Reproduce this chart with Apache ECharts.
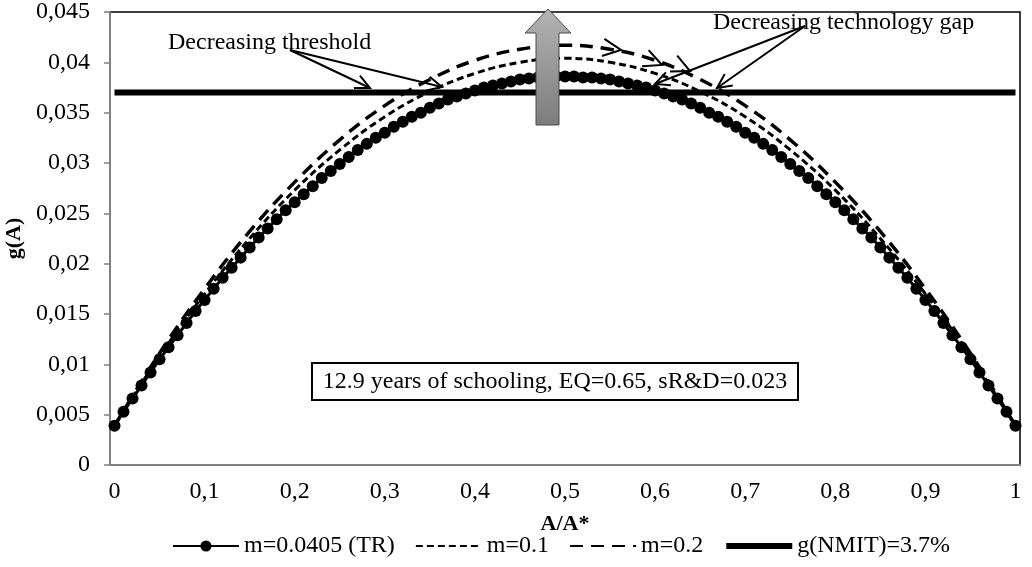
<!DOCTYPE html>
<html>
<head>
<meta charset="utf-8">
<script src="https://cdn.jsdelivr.net/npm/echarts@6/dist/echarts.min.js"></script>
<style>
  html, body { margin: 0; padding: 0; background: #fff; }
  #main { width: 1032px; height: 567px; }
</style>
</head>
<body>
<div id="main"></div>
<script>
// A/A* on the x axis, one step per 0.01
const xCategories = [
  0, 0.01, 0.02, 0.03, 0.04, 0.05, 0.06, 0.07, 0.08, 0.09,
  0.1, 0.11, 0.12, 0.13, 0.14, 0.15, 0.16, 0.17, 0.18, 0.19,
  0.2, 0.21, 0.22, 0.23, 0.24, 0.25, 0.26, 0.27, 0.28, 0.29,
  0.3, 0.31, 0.32, 0.33, 0.34, 0.35, 0.36, 0.37, 0.38, 0.39,
  0.4, 0.41, 0.42, 0.43, 0.44, 0.45, 0.46, 0.47, 0.48, 0.49,
  0.5, 0.51, 0.52, 0.53, 0.54, 0.55, 0.56, 0.57, 0.58, 0.59,
  0.6, 0.61, 0.62, 0.63, 0.64, 0.65, 0.66, 0.67, 0.68, 0.69,
  0.7, 0.71, 0.72, 0.73, 0.74, 0.75, 0.76, 0.77, 0.78, 0.79,
  0.8, 0.81, 0.82, 0.83, 0.84, 0.85, 0.86, 0.87, 0.88, 0.89,
  0.9, 0.91, 0.92, 0.93, 0.94, 0.95, 0.96, 0.97, 0.98, 0.99,
  1
]

// m=0.0405 (TR), one marker per category
const trValues = [
  0.0039, 0.0053, 0.0066, 0.0079, 0.0092, 0.0105, 0.0117, 0.0129, 0.0141, 0.0153,
  0.0164, 0.0175, 0.0186, 0.0196, 0.0206, 0.0216, 0.0226, 0.0235, 0.0244, 0.0253,
  0.0261, 0.0269, 0.0277, 0.0285, 0.0292, 0.0299, 0.0306, 0.0313, 0.0319, 0.0325,
  0.0330, 0.0336, 0.0341, 0.0346, 0.0350, 0.0355, 0.0359, 0.0363, 0.0366, 0.0369,
  0.0372, 0.0375, 0.0377, 0.0379, 0.0381, 0.0383, 0.0384, 0.0385, 0.0385, 0.0386,
  0.0386,
  0.0386, 0.0385, 0.0385, 0.0384, 0.0383, 0.0381, 0.0379, 0.0377, 0.0375, 0.0372,
  0.0369, 0.0366, 0.0363, 0.0359, 0.0355, 0.0350, 0.0346, 0.0341, 0.0336, 0.0330,
  0.0325, 0.0319, 0.0313, 0.0306, 0.0299, 0.0292, 0.0285, 0.0277, 0.0269, 0.0261,
  0.0253, 0.0244, 0.0235, 0.0226, 0.0216, 0.0206, 0.0196, 0.0186, 0.0175, 0.0164,
  0.0153, 0.0141, 0.0129, 0.0117, 0.0105, 0.0092, 0.0079, 0.0066, 0.0053, 0.0039
]

// dashed curves, read every 0.05
const mX = [0, 0.05, 0.1, 0.15, 0.2, 0.25, 0.3, 0.35, 0.4, 0.45, 0.5,
  0.55, 0.6, 0.65, 0.7, 0.75, 0.8, 0.85, 0.9, 0.95, 1]
const m01Values = [0.0039, 0.0108, 0.0170, 0.0225, 0.0273, 0.0313, 0.0346, 0.0371, 0.0389, 0.0400, 0.0404,
  0.0400, 0.0389, 0.0371, 0.0346, 0.0313, 0.0273, 0.0225, 0.0170, 0.0108, 0.0039]
const m02Values = [0.0039, 0.0111, 0.0175, 0.0232, 0.0281, 0.0323, 0.0357, 0.0383, 0.0402, 0.0413, 0.0417,
  0.0413, 0.0402, 0.0383, 0.0357, 0.0323, 0.0281, 0.0232, 0.0175, 0.0111, 0.0039]

// g(NMIT) threshold
const nmitX = [0, 1]
const nmitValues = [0.037, 0.037]

const seriesNames = ['m=0.0405 (TR)', 'm=0.1', 'm=0.2', 'g(NMIT)=3.7%']
const boxText = '12.9 years of schooling, EQ=0.65, sR&D=0.023'

const FONT = '"Liberation Serif", "Times New Roman", serif'
const FS = 24
const comma = v => String(v).replace('.', ',')
const pairs = (xs, ys) => xs.map((x, i) => [xCategories.indexOf(x), ys[i]])

// open arrow: a shaft plus a V head at (x2, y2)
function arrow(x1, y1, x2, y2, head, shaft) {
  const a = Math.atan2(y2 - y1, x2 - x1)
  const w = 0.45
  const out = [{
    type: 'polyline',
    shape: { points: [[x2 - head * Math.cos(a - w), y2 - head * Math.sin(a - w)], [x2, y2],
      [x2 - head * Math.cos(a + w), y2 - head * Math.sin(a + w)]] },
    style: { stroke: '#000', lineWidth: 2, fill: null },
    z: 100
  }]
  if (shaft !== false) {
    out.push({
      type: 'line',
      shape: { x1: x1, y1: y1, x2: x2, y2: y2 },
      style: { stroke: '#000', lineWidth: 2 },
      z: 100
    })
  }
  return out
}

const chart = echarts.init(document.getElementById('main'))

const graphics = [
  {
    type: 'text', left: 168, top: 31, z: 100,
    style: { text: 'Decreasing threshold', font: FS + 'px ' + FONT, fill: '#000' }
  },
  ...arrow(290, 50, 370, 88, 16),
  ...arrow(290, 50, 442, 87, 16),
  {
    type: 'text', left: 713, top: 11, z: 100,
    style: { text: 'Decreasing technology gap', font: FS + 'px ' + FONT, fill: '#000' }
  },
  ...arrow(805, 26, 655, 84, 16),
  ...arrow(805, 26, 717, 88, 16),
  ...arrow(600, 47, 621, 50, 20, false),
  ...arrow(640, 56, 662, 65, 20, false),
  ...arrow(668, 61, 690, 71, 20, false),
  {
    type: 'polygon', z: 110,
    shape: { points: [[548, 9], [571, 33], [559, 33], [559, 125], [536, 125], [536, 33], [525, 33]] },
    style: {
      fill: { type: 'linear', x: 0, y: 0, x2: 0, y2: 1,
        colorStops: [{ offset: 0, color: '#b4b4b4' }, { offset: 1, color: '#7c7c7c' }] },
      stroke: '#4a4a4a', lineWidth: 1
    }
  },
  {
    type: 'rect', z: 100,
    shape: { x: 312, y: 363, width: 486, height: 37 },
    style: { fill: '#fff', stroke: '#000', lineWidth: 2 }
  },
  {
    type: 'text', z: 101, x: 555, y: 382,
    style: { text: boxText, font: FS + 'px ' + FONT, fill: '#000', align: 'center', verticalAlign: 'middle' }
  }
]

const option = {
  animation: false,
  textStyle: { fontFamily: FONT, color: '#000' },
  grid: {
    left: 110, right: 12, top: 12, bottom: 102,
    outerBoundsMode: 'none',
    containLabel: false,
    show: true, borderColor: '#000', borderWidth: 1.5, backgroundColor: 'transparent'
  },
  legend: {
    bottom: 4,
    left: 167,
    itemWidth: 66,
    itemHeight: 14,
    itemGap: 20,
    textStyle: { fontFamily: FONT, fontSize: FS, color: '#000' },
    data: [
      { name: seriesNames[0] },
      { name: seriesNames[1], itemStyle: { opacity: 0 } },
      { name: seriesNames[2], itemStyle: { opacity: 0 } },
      { name: seriesNames[3], itemStyle: { opacity: 0 }, lineStyle: { width: 6 } }
    ]
  },
  xAxis: {
    type: 'category',
    data: xCategories.map(String),
    boundaryGap: true,
    name: 'A/A*',
    nameLocation: 'middle',
    nameGap: 48,
    nameTextStyle: { fontFamily: FONT, fontSize: 22, fontWeight: 'bold', color: '#000' },
    axisLine: { lineStyle: { color: '#808080', width: 2 } },
    axisTick: { interval: 0, length: 5, lineStyle: { color: '#9a9a9a', width: 1 } },
    axisLabel: {
      interval: 9, margin: 15, fontSize: FS, color: '#000', fontFamily: FONT,
      formatter: v => comma(v)
    },
    splitLine: { show: false }
  },
  yAxis: {
    type: 'value',
    min: 0,
    max: 0.045,
    interval: 0.005,
    name: 'g(A)',
    nameLocation: 'middle',
    nameGap: 78,
    nameTextStyle: { fontFamily: FONT, fontSize: 22, fontWeight: 'bold', color: '#000' },
    axisLine: { show: true, lineStyle: { color: '#808080', width: 2 } },
    axisTick: { show: true, length: 6, lineStyle: { color: '#808080', width: 1.5 } },
    axisLabel: {
      margin: 20, fontSize: FS, color: '#000', fontFamily: FONT,
      formatter: v => comma(+v.toFixed(3))
    },
    splitLine: { show: false }
  },
  series: [
    {
      name: seriesNames[0],
      type: 'line',
      data: trValues,
      symbol: 'circle',
      symbolSize: 12,
      showAllSymbol: true,
      itemStyle: { color: '#000' },
      lineStyle: { color: '#000', width: 3 },
      z: 3
    },
    {
      name: seriesNames[1],
      type: 'line',
      data: pairs(mX, m01Values),
      smooth: 0.4,
      symbol: 'none',
      itemStyle: { color: '#000' },
      lineStyle: { color: '#000', width: 3, type: [7, 4] },
      z: 4
    },
    {
      name: seriesNames[2],
      type: 'line',
      data: pairs(mX, m02Values),
      smooth: 0.4,
      symbol: 'none',
      itemStyle: { color: '#000' },
      lineStyle: { color: '#000', width: 3.5, type: [13, 8] },
      z: 4
    },
    {
      name: seriesNames[3],
      type: 'line',
      data: pairs(nmitX, nmitValues),
      symbol: 'none',
      itemStyle: { color: '#000' },
      lineStyle: { color: '#000', width: 6 },
      z: 5
    }
  ],
  graphic: { elements: graphics }
}
chart.setOption(option)
</script>
</body>
</html>
